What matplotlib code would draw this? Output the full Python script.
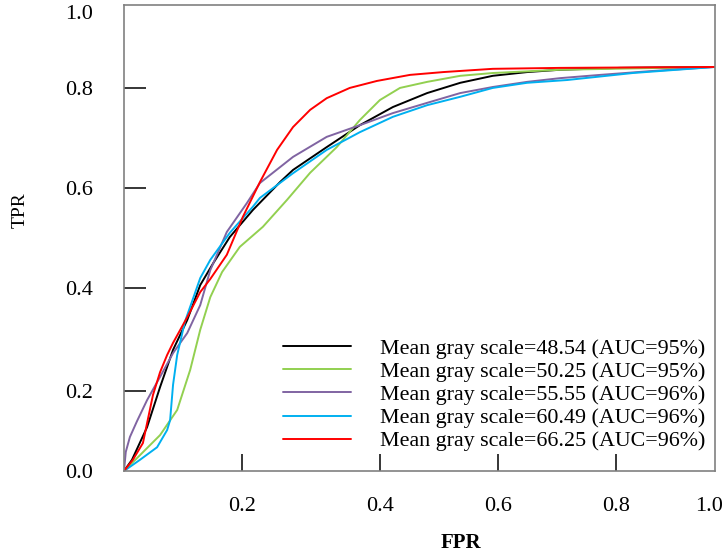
import matplotlib
matplotlib.use("Agg")
import matplotlib.pyplot as plt

plt.rcParams['font.family'] = ['Liberation Serif', 'DejaVu Serif']

# ROC curves (x, y in the plot frame, 0..1)
black_x = [0, .0135, .039, .061, .083, .107, .129, .151, .179, .218, .264, .286,
           .343, .399, .455, .513, .569, .624, .682, .738, .839, 1.0]
black_y = [0, .024, .094, .180, .260, .324, .399, .446, .502, .560, .620, .646,
           .695, .742, .781, .811, .833, .848, .856, .861, .865, .867]

green_x = [0, .027, .061, .090, .112, .129, .146, .166, .196, .235, .276, .315,
           .360, .399, .433, .467, .513, .569, .624, .738, 1.0]
green_y = [0, .034, .077, .131, .217, .303, .373, .427, .481, .524, .582, .640,
           .695, .753, .796, .822, .835, .848, .854, .861, .867]

purple_x = [0, .003, .010, .022, .039, .061, .083, .107, .129, .146, .174, .208,
            .230, .286, .343, .399, .455, .513, .569, .624, .682, .738, .806, .890, 1.0]
purple_y = [0, .041, .073, .107, .152, .202, .253, .296, .356, .431, .513, .575,
            .618, .674, .717, .742, .768, .790, .811, .824, .835, .843, .850, .858, .867]

blue_x = [0, .027, .056, .073, .078, .083, .090, .103, .129, .146, .179, .218,
          .230, .286, .343, .399, .455, .513, .569, .624, .682, .750, .861, 1.0]
blue_y = [0, .024, .051, .088, .109, .185, .249, .320, .414, .453, .511, .567,
          .586, .639, .689, .727, .760, .785, .803, .822, .833, .839, .854, .867]

red_x = [0, .015, .032, .049, .061, .073, .083, .107, .129, .146, .174, .201, .230,
         .259, .286, .315, .343, .382, .428, .484, .540, .624, .738, 1.0]
red_y = [0, .024, .060, .163, .212, .249, .275, .330, .384, .412, .464, .545, .620,
         .689, .738, .775, .800, .822, .837, .850, .856, .863, .865, .867]

labels = ["Mean gray scale=48.54 (AUC=95%)",
          "Mean gray scale=50.25 (AUC=95%)",
          "Mean gray scale=55.55 (AUC=96%)",
          "Mean gray scale=60.49 (AUC=96%)",
          "Mean gray scale=66.25 (AUC=96%)"]
colors = ['#000000', '#92d050', '#8064a2', '#00b0f0', '#ff0000']

# tick marks sit where the reference draws them (not evenly spaced)
xtick_pos = [0.2, 0.433, 0.633, 0.833, 0.99]
xtick_lab = ['0.2', '0.4', '0.6', '0.8', '1.0']
ytick_pos = [0.0, 0.172, 0.393, 0.607, 0.822, 0.985]
ytick_lab = ['0.0', '0.2', '0.4', '0.6', '0.8', '1.0']

fig = plt.figure(figsize=(7.26, 5.59), dpi=100)
ax = fig.add_axes([0.1708, 0.1574, 0.814, 0.8337])

series = [(black_x, black_y), (green_x, green_y), (purple_x, purple_y),
          (blue_x, blue_y), (red_x, red_y)]
for (xs, ys), c, lab in zip(series, colors, labels):
    ax.plot(xs, ys, color=c, lw=1.4, label=lab, solid_capstyle='round')

ax.set_xlim(0, 1)
ax.set_ylim(0, 1)

for s in ax.spines.values():
    s.set_color('#808080')
    s.set_linewidth(1.2)

ax.set_xticks(xtick_pos)
ax.set_xticklabels(xtick_lab)
ax.set_yticks(ytick_pos)
ax.set_yticklabels(ytick_lab)
ax.tick_params(axis='x', direction='in', length=12, width=1.1, color='k',
               labelsize=16, pad=19)
ax.tick_params(axis='y', direction='in', length=16, width=1.1, color='k',
               labelsize=16, pad=22)
# no marks at the frame ends
ax.xaxis.get_major_ticks()[-1].tick1line.set_visible(False)
ax.yaxis.get_major_ticks()[0].tick1line.set_visible(False)
ax.yaxis.get_major_ticks()[-1].tick1line.set_visible(False)

fig.text(0.028, 1 - 210 / 559, 'TPR', rotation=90, fontsize=14,
         ha='center', va='center')
fig.text(461 / 726, 1 - 543 / 559, 'FPR', fontsize=15, fontweight='bold',
         ha='center', va='center')

ax.legend(loc='upper left', bbox_to_anchor=(0.269, 0.285), frameon=False,
          fontsize=15.8, handlelength=3.1, handletextpad=1.3, labelspacing=0.13,
          borderpad=0, borderaxespad=0)

fig.savefig('out.png', dpi=100)
